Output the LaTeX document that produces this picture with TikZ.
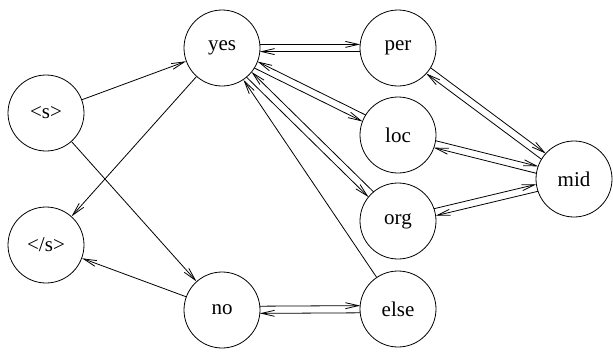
\documentclass[tikz,border=0pt]{standalone}
\usepackage{fontspec}
\setmainfont{Liberation Serif}
\usetikzlibrary{arrows.meta,calc}
\tikzset{
  st/.style={circle,draw,line width=0.8pt,minimum size=76pt,inner sep=0pt,font=\fontsize{21}{25}\selectfont},
  arr/.style={line width=0.8pt,-{Straight Barb[length=13pt,width=6pt]}},
  par/.style={arr,shorten >=37.8pt,shorten <=37.8pt}
}
\newcommand\biedge[4]{\draw[par] ($(#1)!3.6pt!#3:(#2)$) -- ($(#2)!3.6pt!#4:(#1)$);}
\begin{document}
\begin{tikzpicture}[x=1pt,y=-1pt]
\useasboundingbox (0,0) rectangle (613,351);
\node[st] (s) at (46,113) {<s>};
\node[st] (es) at (46,245) {</s>};
\node[st] (yes) at (222,48) {yes};
\node[st] (no) at (222,310) {no};
\node[st] (per) at (398,48) {per};
\node[st] (loc) at (398,135) {loc};
\node[st] (org) at (398,221) {org};
\node[st] (else) at (398,309) {else};
\node[st] (mid) at (574,179) {mid};
\draw[arr] (s) -- (yes);
\draw[arr] (s) -- (no);
\draw[arr] (yes) -- (es);
\draw[arr] (no) -- (es);
\draw[arr] (else) -- (yes);
\biedge{yes}{per}{90}{-90}
\biedge{per}{yes}{90}{-90}
\biedge{yes}{loc}{-90}{90}
\biedge{loc}{yes}{-90}{90}
\biedge{yes}{org}{-90}{90}
\biedge{org}{yes}{-90}{90}
\biedge{per}{mid}{90}{-90}
\biedge{mid}{per}{90}{-90}
\biedge{loc}{mid}{90}{-90}
\biedge{mid}{loc}{90}{-90}
\biedge{org}{mid}{90}{-90}
\biedge{mid}{org}{90}{-90}
\biedge{no}{else}{90}{-90}
\biedge{else}{no}{90}{-90}
\end{tikzpicture}
\end{document}
